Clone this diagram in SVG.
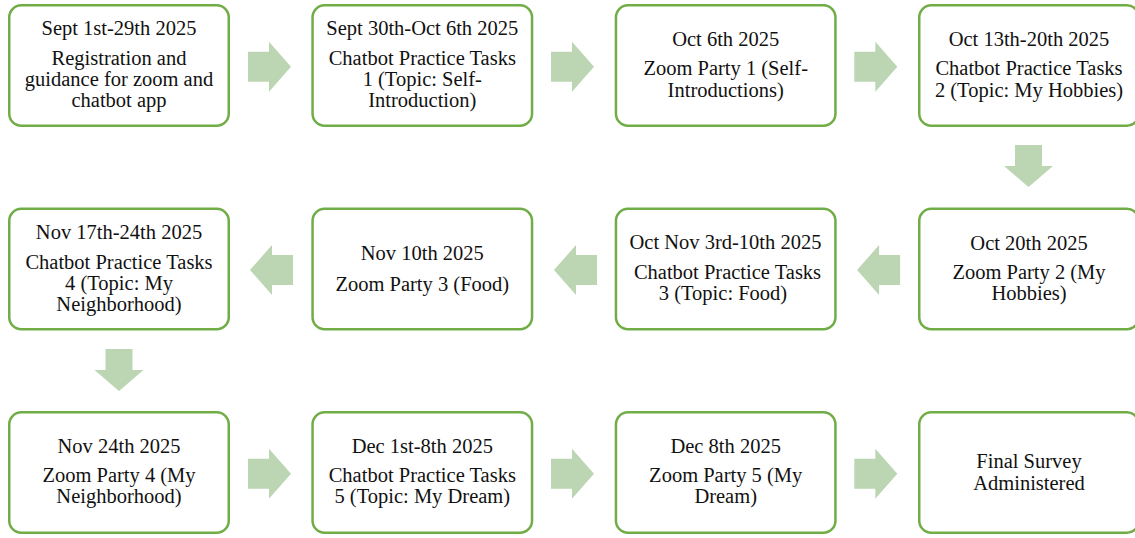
<svg xmlns="http://www.w3.org/2000/svg" xmlns:xlink="http://www.w3.org/1999/xlink" width="1135" height="538" viewBox="0 0 1135 538">
<style>
.box{fill:#fff;stroke:#70AD47;stroke-width:2.5}
.lbl{font-family:"Liberation Serif","Times New Roman",serif;font-size:20.5px;fill:#111;text-anchor:middle}
.arr{fill:#BCD6B4}
</style>
<defs>
<path id="ar" d="M-21.5,-15 H-0.5 V-25 L21.5,0 L-0.5,25 V15 H-21.5 Z"/>
<path id="ad" d="M-13.5,-21 H13.5 V0 H24.5 L0,21 L-24.5,0 H-13.5 Z"/>
</defs>
<rect width="1135" height="538" fill="#fff"/>
<g id="connectors" class="arr">
<use xlink:href="#ar" transform="translate(269.5,66.7)"/>
<use xlink:href="#ar" transform="translate(572.5,66.7)"/>
<use xlink:href="#ar" transform="translate(875.8,66.7)"/>
<use xlink:href="#ad" transform="translate(1028.5,166)"/>
<use xlink:href="#ar" transform="translate(878.6,270) rotate(180)"/>
<use xlink:href="#ar" transform="translate(575.5,270) rotate(180)"/>
<use xlink:href="#ar" transform="translate(271.5,270) rotate(180)"/>
<use xlink:href="#ad" transform="translate(119,370)"/>
<use xlink:href="#ar" transform="translate(269.5,473.8)"/>
<use xlink:href="#ar" transform="translate(572.5,473.8)"/>
<use xlink:href="#ar" transform="translate(875.8,473.8)"/>
</g>
<g id="n1">
<rect class="box" x="9.25" y="5.25" width="219.5" height="120.5" rx="12"/>
<text class="lbl"><tspan x="119" y="35">Sept 1st-29th 2025</tspan><tspan x="119" y="65">Registration and</tspan><tspan x="119" y="86">guidance for zoom and</tspan><tspan x="119" y="107">chatbot app</tspan></text>
</g>
<g id="n2">
<rect class="box" x="312.55" y="5.25" width="219.5" height="120.5" rx="12"/>
<text class="lbl"><tspan x="422.3" y="35">Sept 30th-Oct 6th 2025</tspan><tspan x="422.3" y="65">Chatbot Practice Tasks</tspan><tspan x="422.3" y="86">1 (Topic: Self-</tspan><tspan x="422.3" y="107">Introduction)</tspan></text>
</g>
<g id="n3">
<rect class="box" x="615.95" y="5.25" width="219.5" height="120.5" rx="12"/>
<text class="lbl"><tspan x="725.7" y="46">Oct 6th 2025</tspan><tspan x="725.7" y="75">Zoom Party 1 (Self-</tspan><tspan x="725.7" y="96.5">Introductions)</tspan></text>
</g>
<g id="n4">
<rect class="box" x="919.25" y="5.25" width="219.5" height="120.5" rx="12"/>
<text class="lbl"><tspan x="1029" y="46">Oct 13th-20th 2025</tspan><tspan x="1029" y="75">Chatbot Practice Tasks</tspan><tspan x="1029" y="96.5">2 (Topic: My Hobbies)</tspan></text>
</g>
<g id="n5">
<rect class="box" x="919.25" y="208.75" width="219.5" height="120.5" rx="12"/>
<text class="lbl"><tspan x="1029" y="249.5">Oct 20th 2025</tspan><tspan x="1029" y="278.5">Zoom Party 2 (My</tspan><tspan x="1029" y="300">Hobbies)</tspan></text>
</g>
<g id="n6">
<rect class="box" x="615.95" y="208.75" width="219.5" height="120.5" rx="12"/>
<text class="lbl"><tspan x="725.5" y="249">Oct Nov 3rd-10th 2025</tspan><tspan x="727.5" y="278.5">Chatbot Practice Tasks</tspan><tspan x="723" y="300">3 (Topic: Food)</tspan></text>
</g>
<g id="n7">
<rect class="box" x="312.55" y="208.75" width="219.5" height="120.5" rx="12"/>
<text class="lbl"><tspan x="422.3" y="260">Nov 10th 2025</tspan><tspan x="422.3" y="290.5">Zoom Party 3 (Food)</tspan></text>
</g>
<g id="n8">
<rect class="box" x="9.25" y="208.75" width="219.5" height="120.5" rx="12"/>
<text class="lbl"><tspan x="119" y="239">Nov 17th-24th 2025</tspan><tspan x="119" y="268.5">Chatbot Practice Tasks</tspan><tspan x="119" y="290">4 (Topic: My</tspan><tspan x="119" y="311">Neighborhood)</tspan></text>
</g>
<g id="n9">
<rect class="box" x="9.25" y="412.25" width="219.5" height="120.5" rx="12"/>
<text class="lbl"><tspan x="119" y="453">Nov 24th 2025</tspan><tspan x="119" y="482">Zoom Party 4 (My</tspan><tspan x="119" y="503">Neighborhood)</tspan></text>
</g>
<g id="n10">
<rect class="box" x="312.55" y="412.25" width="219.5" height="120.5" rx="12"/>
<text class="lbl"><tspan x="422.3" y="453">Dec 1st-8th 2025</tspan><tspan x="422.3" y="482">Chatbot Practice Tasks</tspan><tspan x="422.3" y="503">5 (Topic: My Dream)</tspan></text>
</g>
<g id="n11">
<rect class="box" x="615.95" y="412.25" width="219.5" height="120.5" rx="12"/>
<text class="lbl"><tspan x="725.7" y="453">Dec 8th 2025</tspan><tspan x="725.7" y="482">Zoom Party 5 (My</tspan><tspan x="725.7" y="503">Dream)</tspan></text>
</g>
<g id="n12">
<rect class="box" x="919.25" y="412.25" width="219.5" height="120.5" rx="12"/>
<text class="lbl"><tspan x="1029" y="468">Final Survey</tspan><tspan x="1029" y="489.5">Administered</tspan></text>
</g>
</svg>
